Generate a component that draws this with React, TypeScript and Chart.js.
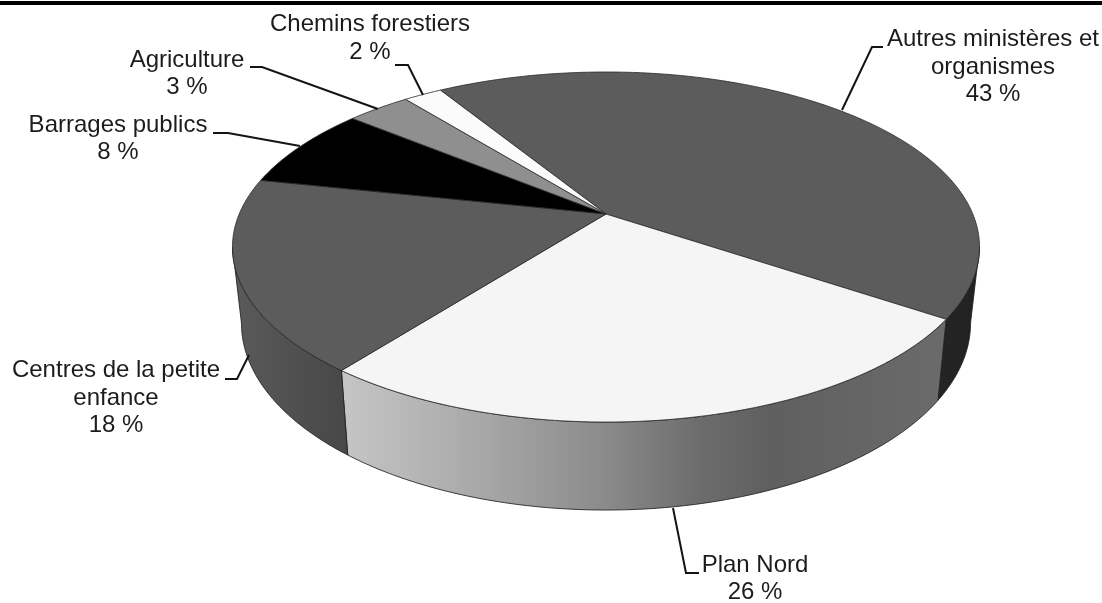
import React, { useEffect, useRef } from "react";
import Chart from "chart.js/auto";

const categories = [
  "Autres ministères et organismes",
  "Plan Nord",
  "Centres de la petite enfance",
  "Barrages publics",
  "Agriculture",
  "Chemins forestiers",
];
const shares = [43.2, 26.1, 17.8, 7.6, 3.3, 2.0];
const topColors = ["#5c5c5c", "#f5f5f5", "#5c5c5c", "#000000", "#8f8f8f", "#fbfbfb"];

const labelLines = [
  ["Autres ministères et", "organismes"],
  ["Plan Nord"],
  ["Centres de la petite", "enfance"],
  ["Barrages publics"],
  ["Agriculture"],
  ["Chemins forestiers"],
];
const labelAnchors = [
  { x: 993, y: 39.5 },
  { x: 755, y: 565 },
  { x: 116, y: 370.5 },
  { x: 118, y: 125 },
  { x: 187, y: 60 },
  { x: 370, y: 24.5 },
];
const leaders = [
  [[842, 110], [872, 47], [883, 47]],
  [[673, 508], [686, 573], [699, 573]],
  [[249, 355], [237, 379], [225, 379]],
  [[300, 146], [228, 133], [213, 133]],
  [[378, 109], [262, 67], [250, 67]],
  [[423, 95], [408, 65], [395, 65]],
];

const ROTATION = -31.6;
const HUB = { x: 606, y: 214 };
const PERSPECTIVE = 0.1886;
const RX = 366.8;
const RY = 168.8;
const CONVERGE_X = 0.976;
const LINE_HEIGHT = 27.5;
const FONT = '24px "Liberation Sans", Arial, sans-serif';

const sideFill: Array<[number, number, Array<[number, string]>]> = [
  [900, 980, [[0, "#262626"], [1, "#222222"]]],
  [348, 937, [[0, "#c4c4c4"], [0.224, "#a8a8a8"], [0.428, "#8c8c8c"], [0.6, "#6c6c6c"], [0.716, "#5f5f5f"], [1, "#6a6a6a"]]],
  [240, 348, [[0, "#595959"], [1, "#474747"]]],
];

function top(a: number) {
  const u = Math.cos(a);
  const v = Math.sin(a);
  const w = 1 - PERSPECTIVE * v;
  return { x: HUB.x + (RX * u) / w, y: HUB.y + (RY * v) / w };
}
function bottom(a: number) {
  const p = top(a);
  return {
    x: HUB.x + CONVERGE_X * (p.x - HUB.x),
    y: p.y + 81 + 0.068 * (p.y - 319),
  };
}

const projectedPie = {
  id: "projectedPie",
  beforeDatasetsDraw(chart: any) {
    const ctx: CanvasRenderingContext2D = chart.ctx;
    const arcs = chart.getDatasetMeta(0).data;
    const STEP = Math.PI / 360;
    const FROM = Math.asin(PERSPECTIVE);
    const TO = Math.PI - FROM;
    ctx.save();
    ctx.fillStyle = "#000";
    ctx.fillRect(0, 1, chart.width, 4);
    ctx.lineJoin = "round";

    // side wall, only where it faces the viewer
    arcs.forEach((arc: any, i: number) => {
      const fill = sideFill[i];
      if (!fill) return;
      const a0 = Math.max(arc.startAngle, FROM);
      const a1 = Math.min(arc.endAngle, TO);
      if (a1 <= a0) return;
      const g = ctx.createLinearGradient(fill[0], 0, fill[1], 0);
      fill[2].forEach(([o, c]) => g.addColorStop(o, c));
      ctx.beginPath();
      let p = top(a0);
      ctx.moveTo(p.x, p.y);
      for (let a = a0; a < a1; a += STEP) {
        p = top(a);
        ctx.lineTo(p.x, p.y);
      }
      p = top(a1);
      ctx.lineTo(p.x, p.y);
      for (let a = a1; a > a0; a -= STEP) {
        p = bottom(a);
        ctx.lineTo(p.x, p.y);
      }
      p = bottom(a0);
      ctx.lineTo(p.x, p.y);
      ctx.closePath();
      ctx.fillStyle = g;
      ctx.fill();
      ctx.lineWidth = 1;
      ctx.strokeStyle = "rgba(30,30,30,0.85)";
      ctx.stroke();
    });

    // top face
    arcs.forEach((arc: any, i: number) => {
      ctx.beginPath();
      ctx.moveTo(HUB.x, HUB.y);
      for (let a = arc.startAngle; a < arc.endAngle; a += STEP) {
        const p = top(a);
        ctx.lineTo(p.x, p.y);
      }
      const e = top(arc.endAngle);
      ctx.lineTo(e.x, e.y);
      ctx.closePath();
      ctx.fillStyle = topColors[i];
      ctx.fill();
      ctx.lineWidth = 1;
      ctx.strokeStyle = "rgba(40,40,40,0.8)";
      ctx.stroke();
    });

    // leader lines
    ctx.strokeStyle = "#141414";
    ctx.lineWidth = 2;
    ctx.lineJoin = "miter";
    leaders.forEach((pts) => {
      ctx.beginPath();
      pts.forEach(([x, y], k) => (k ? ctx.lineTo(x, y) : ctx.moveTo(x, y)));
      ctx.stroke();
    });

    // labels
    ctx.fillStyle = "#1c1c1c";
    ctx.font = FONT;
    ctx.textAlign = "center";
    ctx.textBaseline = "middle";
    labelLines.forEach((lines, i) => {
      const a = labelAnchors[i];
      [...lines, `${Math.round(shares[i])} %`].forEach((t, k) => {
        ctx.fillText(t, a.x, a.y + k * LINE_HEIGHT);
      });
    });
    ctx.restore();
    return false;
  },
};

export default function App() {
  const ref = useRef<HTMLCanvasElement>(null);
  useEffect(() => {
    const chart = new Chart(ref.current!, {
      type: "pie",
      data: {
        labels: categories,
        datasets: [{ data: shares, backgroundColor: topColors }],
      },
      options: {
        animation: false,
        responsive: false,
        rotation: ROTATION,
        plugins: { legend: { display: false }, tooltip: { enabled: false } },
      },
      plugins: [projectedPie],
    } as any);
    return () => chart.destroy();
  }, []);
  return (
    <div style={{ position: "absolute", left: 0, top: 0, width: 1102, height: 603, background: "#fff", overflow: "hidden" }}>
      <canvas ref={ref} width={1102} height={603} style={{ display: "block", filter: "blur(0.4px)" }} />
    </div>
  );
}
